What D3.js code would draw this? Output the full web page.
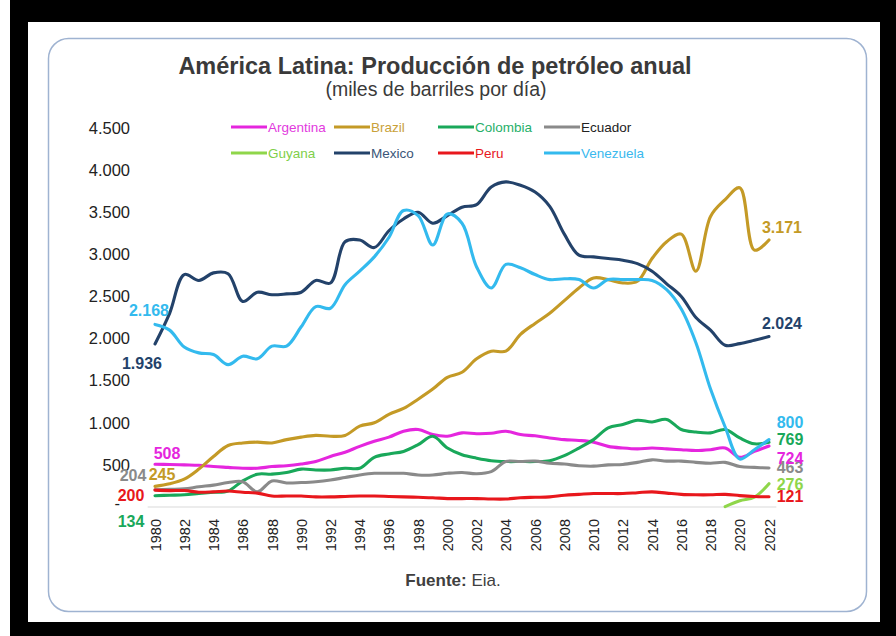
<!DOCTYPE html>
<html>
<head>
<meta charset="utf-8">
<script src="https://cdn.jsdelivr.net/npm/d3@7"></script>
<style>
  body { margin: 0; background: #fff; }
  svg { display: block; font-family: "Liberation Sans", Arial, sans-serif; }
</style>
</head>
<body>
<svg id="chart" width="896" height="636"></svg>
<script>
// Annual oil production, thousand barrels per day, 1980-2022
const years = d3.range(1980, 2023);

const argentina = [508, 505, 500, 495, 480, 470, 460, 460, 480, 490, 510, 540, 600, 650, 720, 780, 830, 900, 920, 860, 840, 880, 870, 875, 900, 860, 845, 820, 800, 790, 770, 720, 700, 690, 700, 690, 680, 670, 680, 700, 590, 660, 724];
const brazil = [245, 275, 330, 450, 600, 730, 760, 770, 760, 800, 830, 850, 840, 850, 960, 1000, 1100, 1170, 1280, 1400, 1540, 1600, 1760, 1850, 1850, 2050, 2180, 2300, 2450, 2600, 2720, 2700, 2660, 2680, 2950, 3150, 3240, 2800, 3450, 3650, 3790, 3050, 3171];
const colombia = [134, 140, 145, 160, 175, 190, 310, 390, 390, 410, 450, 440, 440, 460, 460, 590, 630, 660, 740, 840, 700, 620, 580, 550, 540, 540, 540, 550, 610, 700, 800, 940, 980, 1030, 1010, 1040, 920, 890, 880, 920, 820, 750, 769];
const ecuador = [204, 210, 215, 240, 260, 290, 300, 180, 310, 285, 290, 300, 320, 350, 380, 400, 400, 400, 380, 380, 400, 410, 395, 420, 540, 540, 545, 520, 510, 490, 485, 500, 505, 530, 560, 545, 545, 530, 520, 530, 480, 470, 463];
const guyana = [null, null, null, null, null, null, null, null, null, null, null, null, null, null, null, null, null, null, null, null, null, null, null, null, null, null, null, null, null, null, null, null, null, null, null, null, null, null, null, 5, 74, 117, 276];
const mexico = [1936, 2300, 2760, 2690, 2780, 2770, 2440, 2550, 2520, 2530, 2550, 2690, 2660, 3150, 3170, 3080, 3280, 3420, 3500, 3370, 3460, 3560, 3590, 3800, 3860, 3820, 3740, 3570, 3240, 2990, 2970, 2950, 2930, 2890, 2800, 2650, 2500, 2250, 2100, 1920, 1940, 1980, 2024];
const peru = [200, 195, 195, 175, 180, 190, 175, 165, 130, 130, 130, 120, 120, 125, 130, 130, 125, 120, 115, 110, 100, 100, 100, 95, 95, 110, 115, 120, 140, 150, 160, 160, 160, 170, 180, 165, 150, 145, 145, 150, 135, 125, 121];
const venezuela = [2168, 2100, 1900, 1830, 1810, 1690, 1790, 1760, 1910, 1910, 2140, 2380, 2360, 2640, 2800, 2970, 3200, 3520, 3460, 3110, 3480, 3370, 2850, 2600, 2880, 2840, 2760, 2700, 2710, 2700, 2600, 2700, 2700, 2700, 2690, 2580, 2350, 1950, 1400, 950, 570, 680, 800];

const yTicks = d3.range(0, 4501, 500);
const xTicks = d3.range(1980, 2023, 2);

const series = [
  { name: "Argentina", values: argentina, color: "#e526de", text: "#e23ade" },
  { name: "Brazil",    values: brazil,    color: "#c49a26", text: "#c9a13a" },
  { name: "Colombia",  values: colombia,  color: "#19a85a", text: "#27b06a" },
  { name: "Ecuador",   values: ecuador,   color: "#8a8a8a", text: "#222222" },
  { name: "Guyana",    values: guyana,    color: "#8fd64a", text: "#7fcf4a" },
  { name: "Mexico",    values: mexico,    color: "#23426a", text: "#3a5678" },
  { name: "Peru",      values: peru,      color: "#e8171c", text: "#e8171c" },
  { name: "Venezuela", values: venezuela, color: "#33baee", text: "#3ab9ee" }
];
const byName = Object.fromEntries(series.map(s => [s.name, s]));

const svg = d3.select("#chart");

// outer frame and card
svg.append("rect").attr("x", 0).attr("y", 0).attr("width", 896).attr("height", 636).attr("fill", "#000");
svg.append("rect").attr("x", 0).attr("y", 0).attr("width", 10).attr("height", 636).attr("fill", "#fff");
svg.append("rect").attr("x", 28).attr("y", 22).attr("width", 852).attr("height", 600).attr("fill", "#fff");
svg.append("rect").attr("x", 48.5).attr("y", 38.5).attr("width", 818).attr("height", 573)
  .attr("rx", 20).attr("fill", "#fff").attr("stroke", "#9fb3d1").attr("stroke-width", 1.5);

// titles
svg.append("text").attr("x", 435).attr("y", 74).attr("text-anchor", "middle")
  .attr("font-size", 23.5).attr("font-weight", "bold").attr("fill", "#3a3a3a")
  .text("América Latina: Producción de petróleo anual");
svg.append("text").attr("x", 436).attr("y", 96).attr("text-anchor", "middle")
  .attr("font-size", 19.5).attr("fill", "#3a3a3a")
  .text("(miles de barriles por día)");

// scales
const x = d3.scaleLinear().domain([1980, 2022]).range([155, 769]);
const y = d3.scaleLinear().domain([0, 4500]).range([507, 128]);

const fmt = v => d3.format(",")(v).replace(/,/g, ".");

// y axis
const yAxis = svg.append("g").attr("transform", "translate(130,0)")
  .call(d3.axisLeft(y).tickValues(yTicks).tickSize(0).tickPadding(0)
    .tickFormat(d => d === 0 ? "-" : fmt(d)));
yAxis.select(".domain").remove();
yAxis.selectAll("text").attr("font-size", 16.5).attr("fill", "#222")
  .attr("font-family", "Liberation Sans, Arial, sans-serif");
yAxis.selectAll(".tick").filter(d => d === 0).select("text").attr("x", -10).attr("dy", "0.1em");

// baseline
svg.append("line").attr("x1", x(1979.5)).attr("x2", x(2022.5))
  .attr("y1", y(0)).attr("y2", y(0)).attr("stroke", "#d9d9d9").attr("stroke-width", 1.2);

// x axis
const xAxis = svg.append("g").attr("transform", `translate(0,${y(0)})`)
  .call(d3.axisBottom(x).tickValues(xTicks).tickSize(0).tickFormat(d3.format("d")));
xAxis.select(".domain").remove();
xAxis.selectAll("text")
  .attr("font-size", 14.5).attr("fill", "#222")
  .attr("font-family", "Liberation Sans, Arial, sans-serif")
  .attr("text-anchor", "end")
  .attr("transform", "rotate(-90)")
  .attr("x", -12).attr("y", 0).attr("dy", "0.35em");

// legend
const legendCols = [231, 334, 438, 544];
const legendRows = [127, 153];
series.forEach((s, i) => {
  const lx = legendCols[i % 4], ly = legendRows[Math.floor(i / 4)];
  const g = svg.append("g");
  g.append("line").attr("x1", lx).attr("x2", lx + 36).attr("y1", ly).attr("y2", ly)
    .attr("stroke", s.color).attr("stroke-width", 3.2);
  g.append("text").attr("x", lx + 37).attr("y", ly).attr("dy", "0.35em")
    .attr("font-size", 13.5).attr("fill", s.text).text(s.name);
});

// lines
const line = d3.line()
  .defined(d => d.v != null)
  .x(d => x(d.year)).y(d => y(d.v))
  .curve(d3.curveCatmullRom.alpha(0.5));

series.forEach(s => {
  const pts = years.map((yr, i) => ({ year: yr, v: s.values[i] }));
  svg.append("path").datum(pts).attr("d", line)
    .attr("fill", "none").attr("stroke", s.color).attr("stroke-width", 3.1)
    .attr("stroke-linecap", "round").attr("stroke-linejoin", "round");
});

// end labels: first and last values of each series
const first = [
  { name: "Venezuela", dx: -6,  dy: -14 },
  { name: "Mexico",    dx: -13, dy: 19 },
  { name: "Argentina", dx: 12,  dy: -11 },
  { name: "Ecuador",   dx: -22, dy: -14 },
  { name: "Brazil",    dx: 7,   dy: -12 },
  { name: "Peru",      dx: -24, dy: 5 },
  { name: "Colombia",  dx: -24, dy: 26 }
];
const last = [
  { name: "Brazil",    dx: 13, dy: -13 },
  { name: "Mexico",    dx: 13, dy: -13 },
  { name: "Venezuela", dx: 21, dy: -17 },
  { name: "Colombia",  dx: 21, dy: -3 },
  { name: "Ecuador",   dx: 21, dy: -1 },
  { name: "Argentina", dx: 21, dy: 12 },
  { name: "Guyana",    dx: 21, dy: 1 },
  { name: "Peru",      dx: 21, dy: 0 }
];
function label(item, idx) {
  const s = byName[item.name];
  const v = s.values[idx];
  svg.append("text")
    .attr("x", x(years[idx]) + item.dx).attr("y", y(v) + item.dy).attr("dy", "0.35em")
    .attr("text-anchor", "middle").attr("font-size", 16).attr("font-weight", "bold")
    .attr("fill", s.color).text(fmt(v));
}
first.forEach(it => label(it, 0));
last.forEach(it => label(it, years.length - 1));

// source
const src = svg.append("text").attr("x", 453).attr("y", 586).attr("text-anchor", "middle")
  .attr("font-size", 17).attr("fill", "#404040");
src.append("tspan").attr("font-weight", "bold").text("Fuente:");
src.append("tspan").text(" Eia.");
</script>
</body>
</html>
